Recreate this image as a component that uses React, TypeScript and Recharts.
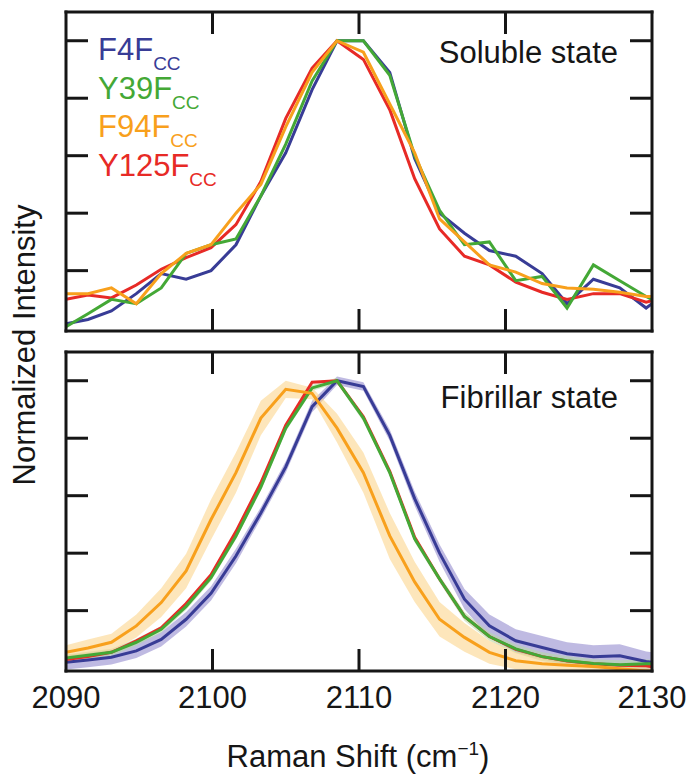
// Raman spectra of the C≡C label, soluble vs fibrillar state, drawn as two stacked panels.

import { Area, ComposedChart, Line, XAxis, YAxis } from "recharts";

const FONT = '"Liberation Sans", Arial, Helvetica, sans-serif';
const INK = "#161616";

const BLUE = "#383c96";
const GREEN = "#44a836";
const ORANGE = "#f8a01c";
const RED = "#e72a26";

const X_MIN = 2090;
const X_MAX = 2130;
const xTicks = [2090, 2100, 2110, 2120, 2130];
const yTicks = [0.2, 0.4, 0.6, 0.8, 1.0];

// Raman shift (cm-1) of each sample point
const shifts = [
	2090.0, 2091.5, 2093.1, 2094.8, 2096.5, 2098.2, 2099.9, 2101.6, 2103.3, 2105.0, 2106.8, 2108.5, 2110.3,
	2112.1, 2113.8, 2115.5, 2117.2, 2118.9, 2120.7, 2122.5, 2124.2, 2126.0, 2127.8, 2129.6, 2130.0,
];

// soluble state
const f4Soluble = [0.015, 0.03, 0.06, 0.12, 0.19, 0.17, 0.2, 0.29, 0.46, 0.61, 0.83, 1.0, 1.0, 0.89, 0.59, 0.4, 0.33, 0.27, 0.25, 0.19, 0.085, 0.17, 0.14, 0.07, 0.085];
const y39Soluble = [0.005, 0.05, 0.1, 0.085, 0.14, 0.26, 0.29, 0.31, 0.46, 0.64, 0.86, 1.0, 1.0, 0.88, 0.6, 0.41, 0.29, 0.3, 0.165, 0.18, 0.07, 0.22, 0.165, 0.11, 0.1];
const f94Soluble = [0.12, 0.12, 0.14, 0.085, 0.19, 0.26, 0.29, 0.4, 0.5, 0.7, 0.89, 1.0, 0.96, 0.78, 0.61, 0.38, 0.3, 0.22, 0.195, 0.155, 0.14, 0.135, 0.125, 0.11, 0.11];
const y125Soluble = [0.1, 0.115, 0.105, 0.15, 0.205, 0.245, 0.28, 0.36, 0.51, 0.73, 0.905, 1.0, 0.935, 0.76, 0.52, 0.345, 0.25, 0.22, 0.16, 0.125, 0.1, 0.12, 0.12, 0.09, 0.095];

// fibrillar state (mean) and half-width of the shaded spread
const f4Fibril = [0.02, 0.028, 0.038, 0.06, 0.1, 0.17, 0.26, 0.39, 0.54, 0.7, 0.91, 1.0, 0.98, 0.81, 0.59, 0.4, 0.24, 0.147, 0.095, 0.072, 0.05, 0.04, 0.043, 0.023, 0.02];
const y39Fibril = [0.035, 0.045, 0.055, 0.09, 0.135, 0.215, 0.315, 0.46, 0.63, 0.835, 0.975, 1.0, 0.87, 0.68, 0.45, 0.31, 0.18, 0.11, 0.067, 0.04, 0.026, 0.016, 0.012, 0.015, 0.015];
const f94Fibril = [0.055, 0.07, 0.09, 0.147, 0.228, 0.338, 0.517, 0.68, 0.87, 0.97, 0.956, 0.835, 0.68, 0.46, 0.3, 0.17, 0.107, 0.055, 0.026, 0.015, 0.01, 0.006, -0.002, -0.01, -0.01];
const y125Fibril = [0.03, 0.04, 0.055, 0.095, 0.14, 0.225, 0.325, 0.475, 0.645, 0.845, 0.995, 1.0, 0.875, 0.685, 0.455, 0.31, 0.18, 0.11, 0.065, 0.04, 0.025, 0.015, 0.01, 0.008, 0.005];

const f4Spread = [0.025, 0.025, 0.025, 0.025, 0.025, 0.025, 0.025, 0.025, 0.02, 0.02, 0.02, 0.015, 0.015, 0.02, 0.025, 0.03, 0.035, 0.04, 0.04, 0.04, 0.04, 0.04, 0.04, 0.035, 0.035];
const f94Spread = [0.025, 0.03, 0.03, 0.04, 0.05, 0.06, 0.07, 0.07, 0.06, 0.03, 0.02, 0.05, 0.07, 0.08, 0.07, 0.06, 0.05, 0.04, 0.03, 0.025, 0.02, 0.015, 0.015, 0.015, 0.015];
const y39Spread = [0.012, 0.012, 0.012, 0.012, 0.012, 0.012, 0.012, 0.012, 0.012, 0.012, 0.01, 0.01, 0.012, 0.012, 0.012, 0.012, 0.015, 0.015, 0.015, 0.015, 0.015, 0.015, 0.015, 0.015, 0.015];

const legend = [
	{ name: "F4F", color: BLUE },
	{ name: "Y39F", color: GREEN },
	{ name: "F94F", color: ORANGE },
	{ name: "Y125F", color: RED },
];

const solubleRows = shifts.map((x, i) => ({
	x,
	f4: f4Soluble[i],
	y39: y39Soluble[i],
	f94: f94Soluble[i],
	y125: y125Soluble[i],
}));

const fibrilRows = shifts.map((x, i) => ({
	x,
	f4: f4Fibril[i],
	y39: y39Fibril[i],
	f94: f94Fibril[i],
	y125: y125Fibril[i],
	f4Band: [f4Fibril[i] - f4Spread[i], f4Fibril[i] + f4Spread[i]],
	f94Band: [f94Fibril[i] - f94Spread[i], f94Fibril[i] + f94Spread[i]],
	y39Band: [y39Fibril[i] - y39Spread[i], y39Fibril[i] + y39Spread[i]],
}));

const TICK_LEN = 22;

const xTick = (dir: 1 | -1, withLabel: boolean) => (p: any) => {
	const v = p.payload.value;
	const edge = v <= X_MIN || v >= X_MAX;
	return (
		<g>
			{!edge && <line x1={p.x} x2={p.x} y1={p.y} y2={p.y + dir * TICK_LEN} stroke={INK} strokeWidth={3} />}
			{withLabel && (
				<text x={p.x} y={p.y + 37} textAnchor="middle" fontSize={31} fontFamily={FONT} fill={INK}>
					{v}
				</text>
			)}
		</g>
	);
};

const yTick = (dir: 1 | -1) => (p: any) => (
	<line x1={p.x} x2={p.x + dir * TICK_LEN} y1={p.y} y2={p.y} stroke={INK} strokeWidth={3} />
);

const axisLine = { stroke: INK, strokeWidth: 3, strokeLinecap: "square" as const };

// axes get a 1px box (a 0px box is not drawn), margins below are reduced by that pixel
function Frame({ labels }: { labels: boolean }) {
	return (
		<>
			<XAxis xAxisId="b" dataKey="x" type="number" orientation="bottom" domain={[X_MIN, X_MAX]} ticks={xTicks}
				allowDataOverflow height={1} tickSize={0} tickMargin={0} tickLine={false} interval={0}
				axisLine={axisLine} tick={xTick(-1, labels)} />
			<XAxis xAxisId="t" dataKey="x" type="number" orientation="top" domain={[X_MIN, X_MAX]} ticks={xTicks}
				allowDataOverflow height={1} tickSize={0} tickMargin={0} tickLine={false} interval={0}
				axisLine={axisLine} tick={xTick(1, false)} />
			<YAxis yAxisId="l" type="number" orientation="left" domain={[-0.01, 1.1]} ticks={yTicks}
				allowDataOverflow width={1} tickSize={0} tickMargin={0} tickLine={false} interval={0}
				axisLine={axisLine} tick={yTick(1)} />
			<YAxis yAxisId="r" type="number" orientation="right" domain={[-0.01, 1.1]} ticks={yTicks}
				allowDataOverflow width={1} tickSize={0} tickMargin={0} tickLine={false} interval={0}
				axisLine={axisLine} tick={yTick(-1)} />
		</>
	);
}

function series(key: string, color: string) {
	return (
		<Line xAxisId="b" yAxisId="l" type="linear" dataKey={key} stroke={color} strokeWidth={3}
			dot={false} activeDot={false} isAnimationActive={false} strokeLinejoin="miter" />
	);
}

function band(key: string, color: string, opacity: number) {
	return (
		<Area xAxisId="b" yAxisId="l" type="linear" dataKey={key} stroke="none" fill={color}
			fillOpacity={opacity} dot={false} activeDot={false} isAnimationActive={false} />
	);
}

export default function App() {
	return (
		<div style={{ position: "absolute", left: 0, top: 0, width: 689, height: 775, background: "#fff" }}>
			<div style={{ position: "absolute", left: 0, top: 0 }}>
				<ComposedChart width={689} height={340} data={solubleRows} margin={{ top: 11, right: 36, bottom: 8, left: 65 }}>
					<Frame labels={false} />
					{series("f4", BLUE)}
					{series("y125", RED)}
					{series("y39", GREEN)}
					{series("f94", ORANGE)}
				</ComposedChart>
			</div>
			<div style={{ position: "absolute", left: 0, top: 340 }}>
				<ComposedChart width={689} height={435} data={fibrilRows} margin={{ top: 11, right: 36, bottom: 103, left: 65 }}>
					<Frame labels />
					{band("f4Band", "#a9a3d8", 0.75)}
					{band("y39Band", "#b9d9a8", 0.6)}
					{band("f94Band", "#fbd58e", 0.6)}
					{series("f4", BLUE)}
					{series("y125", RED)}
					{series("y39", GREEN)}
					{series("f94", ORANGE)}
				</ComposedChart>
			</div>
			<svg width={689} height={775} style={{ position: "absolute", left: 0, top: 0, pointerEvents: "none" }}>
				<g fontFamily={FONT}>
					{legend.map((d, i) => (
						<text key={d.name} x={98} y={60 + i * 38.5} fontSize={31} fill={d.color}>
							{d.name}
							<tspan fontSize={19} dy={10}>CC</tspan>
						</text>
					))}
					<text x={618} y={63} fontSize={31} textAnchor="end" fill={INK}>Soluble state</text>
					<text x={618} y={408} fontSize={31} textAnchor="end" fill={INK}>Fibrillar state</text>
					<text x={358} y={767} fontSize={31} textAnchor="middle" fill={INK}>
						Raman Shift (cm<tspan fontSize={19} dy={-12}>−1</tspan>
						<tspan dy={12}>)</tspan>
					</text>
					<text transform="translate(35,345) rotate(-90)" fontSize={31} textAnchor="middle" fill={INK}>
						Normalized Intensity
					</text>
				</g>
			</svg>
		</div>
	);
}
